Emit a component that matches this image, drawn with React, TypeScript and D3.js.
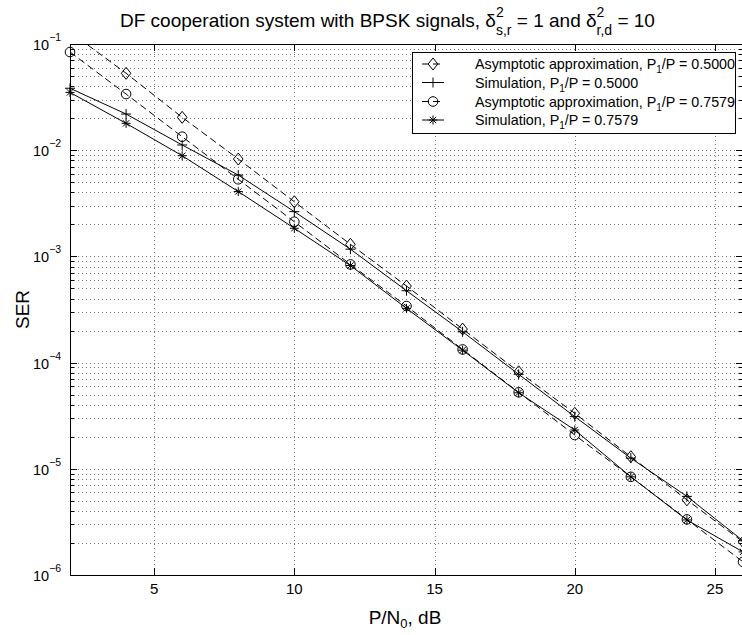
import React from "react";
import * as d3 from "d3";

const snr = [2, 4, 6, 8, 10, 12, 14, 16, 18, 20, 22, 24, 26];
const asym05 = [0.13, 0.053, 0.0204, 0.00826, 0.00327, 0.0013, 0.000526, 0.000207, 0.000082, 0.0000333, 0.000013, 0.0000051, 0.00000205];
const sim05 = [0.0383, 0.0219, 0.0112, 0.00583, 0.00264, 0.00117, 0.000475, 0.000195, 0.0000776, 0.000031, 0.0000126, 0.0000055, 0.0000021];
const asym0758 = [0.084, 0.0338, 0.0134, 0.00532, 0.00212, 0.00084, 0.000341, 0.000133, 0.0000525, 0.0000208, 0.0000084, 0.00000334, 0.00000133];
const sim0758 = [0.035, 0.0179, 0.00887, 0.00408, 0.00184, 0.00082, 0.000324, 0.000131, 0.000052, 0.0000232, 0.0000084, 0.0000033, 0.00000165];

const xTicks = [5, 10, 15, 20, 25];
const yExps = [-1, -2, -3, -4, -5, -6];

const seriesNames = ["Asymptotic approximation", "Simulation", "Asymptotic approximation", "Simulation"];
const seriesRatio = ["0.5000", "0.5000", "0.7579", "0.7579"];
const seriesMarker = ["diamond", "plus", "circle", "star"];
const seriesDashed = [true, false, true, false];
const seriesValues = [asym05, sim05, asym0758, sim0758];

const FONT = "'Liberation Sans', Arial, Helvetica, sans-serif";

const L = 70, R = 743, T = 44, B = 575;

function Marker({ type, x, y }: { type: string; x: number; y: number }) {
  const s = { fill: "none", stroke: "#000", strokeWidth: 1 };
  if (type === "diamond") {
    const r = 6;
    return <path d={`M${x},${y - r}L${x + r * 0.8},${y}L${x},${y + r}L${x - r * 0.8},${y}Z`} {...s} />;
  }
  if (type === "circle") return <circle cx={x} cy={y} r={4.8} {...s} />;
  if (type === "plus") {
    const r = 5;
    return <path d={`M${x - r},${y}H${x + r}M${x},${y - r}V${y + r}`} {...s} />;
  }
  const r = 4.5, k = r * 0.7;
  return (
    <path
      d={`M${x - r},${y}H${x + r}M${x},${y - r}V${y + r}M${x - k},${y - k}L${x + k},${y + k}M${x - k},${y + k}L${x + k},${y - k}`}
      {...s}
    />
  );
}

export default function App() {
  const x = d3.scaleLinear().domain([2, 26]).range([L, R]);
  const y = d3.scaleLog().domain([1e-6, 1e-1]).range([B, T]);
  const line = d3
    .line<number>()
    .x((_, i) => x(snr[i]))
    .y((d) => y(d));

  const minors: number[] = [];
  for (let e = -6; e < -1; e++) for (let m = 2; m <= 9; m++) minors.push(m * Math.pow(10, e));

  const gridStyle = { stroke: "#777", strokeWidth: 1, strokeDasharray: "1 3" };

  const legX = 412.5, legY = 52.5, legW = 323, legH = 81;
  const rowY = [64, 82.5, 101.5, 120];

  return (
    <svg width={742} height={635} style={{ position: "absolute", left: 0, top: 0, background: "#fff" }} fontFamily={FONT}>
      <rect x={0} y={0} width={742} height={635} fill="#fff" />
      <defs>
        <clipPath id="plotclip">
          <rect x={L} y={T} width={R - L} height={B - T} />
        </clipPath>
      </defs>
      {/* grid */}
      <g>
        {xTicks.map((t) => (
          <line key={"gx" + t} x1={Math.round(x(t)) + 0.5} x2={Math.round(x(t)) + 0.5} y1={T} y2={B} {...gridStyle} />
        ))}
        {yExps.map((e) => (
          <line key={"gy" + e} x1={L} x2={R} y1={Math.round(y(Math.pow(10, e))) + 0.5} y2={Math.round(y(Math.pow(10, e))) + 0.5} {...gridStyle} />
        ))}
        {minors.map((v, i) => (
          <line key={"gm" + i} x1={L} x2={R} y1={Math.round(y(v)) + 0.5} y2={Math.round(y(v)) + 0.5} {...gridStyle} />
        ))}
      </g>
      {/* ticks */}
      <g stroke="#000" strokeWidth={1}>
        {xTicks.map((t) => {
          const px = Math.round(x(t)) + 0.5;
          return (
            <g key={"tx" + t}>
              <line x1={px} x2={px} y1={B} y2={B - 7} />
              <line x1={px} x2={px} y1={T} y2={T + 7} />
            </g>
          );
        })}
        {yExps.map((e) => {
          const py = Math.round(y(Math.pow(10, e))) + 0.5;
          return (
            <g key={"ty" + e}>
              <line x1={L} x2={L + 7} y1={py} y2={py} />
              <line x1={R} x2={R - 7} y1={py} y2={py} />
            </g>
          );
        })}
        {minors.map((v, i) => {
          const py = Math.round(y(v)) + 0.5;
          return (
            <g key={"tm" + i}>
              <line x1={L} x2={L + 4} y1={py} y2={py} />
              <line x1={R} x2={R - 4} y1={py} y2={py} />
            </g>
          );
        })}
      </g>
      {/* series */}
      <g clipPath="url(#plotclip)">
        {seriesValues.map((vals, i) => (
          <path
            key={"s" + i}
            d={line(vals) || ""}
            fill="none"
            stroke="#000"
            strokeWidth={1}
            strokeDasharray={seriesDashed[i] ? "7 4" : undefined}
          />
        ))}
      </g>
      <g>
        {seriesValues.map((vals, i) =>
          vals.map((v, j) =>
            v <= 1e-1 && v >= 1e-6 ? <Marker key={"m" + i + "-" + j} type={seriesMarker[i]} x={x(snr[j])} y={y(v)} /> : null
          )
        )}
      </g>
      {/* axes box */}
      <rect x={L + 0.5} y={T + 0.5} width={R - L} height={B - T} fill="none" stroke="#000" strokeWidth={1} />
      {/* x tick labels */}
      {xTicks.map((t) => (
        <text key={"xl" + t} x={x(t)} y={594} fontSize={15} textAnchor="middle">
          {t}
        </text>
      ))}
      {/* y tick labels */}
      {yExps.map((e) => {
        const py = y(Math.pow(10, e));
        return (
          <text key={"yl" + e} x={33} y={py + 6} fontSize={14.5}>
            10
            <tspan fontSize={10.5} dy={-9}>
              {"\u2212" + Math.abs(e)}
            </tspan>
          </text>
        );
      })}
      {/* axis labels */}
      <text x={405} y={624} fontSize={19} textAnchor="middle">
        P/N<tspan fontSize={13} dy={4}>0</tspan>
        <tspan dy={-4}>, dB</tspan>
      </text>
      <text transform={`translate(29,${(T + B) / 2}) rotate(-90)`} fontSize={19} textAnchor="middle">
        SER
      </text>
      {/* title */}
      <text x={120} y={27} fontSize={19} textAnchor="start">
        DF cooperation system with BPSK signals, δ
        <tspan fontSize={14} dy={-10}>2</tspan>
        <tspan fontSize={14} dx={-7.8} dy={18}>s,r</tspan>
        <tspan dy={-8}> = 1 and δ</tspan>
        <tspan fontSize={14} dy={-10}>2</tspan>
        <tspan fontSize={14} dx={-7.8} dy={18}>r,d</tspan>
        <tspan dy={-8}> = 10</tspan>
      </text>
      {/* legend */}
      <rect x={legX} y={legY} width={legW} height={legH} fill="#fff" stroke="#000" strokeWidth={1} />
      {seriesNames.map((name, i) => (
        <g key={"lg" + i}>
          <line
            x1={422}
            x2={444}
            y1={rowY[i]}
            y2={rowY[i]}
            stroke="#000"
            strokeWidth={1}
            strokeDasharray={seriesDashed[i] ? "7 4" : undefined}
          />
          <Marker type={seriesMarker[i]} x={433} y={rowY[i]} />
          <text x={475} y={rowY[i] + 5} fontSize={14.3}>
            {name}, P<tspan fontSize={10} dy={4}>1</tspan>
            <tspan dy={-4}>/P = {seriesRatio[i]}</tspan>
          </text>
        </g>
      ))}
    </svg>
  );
}
